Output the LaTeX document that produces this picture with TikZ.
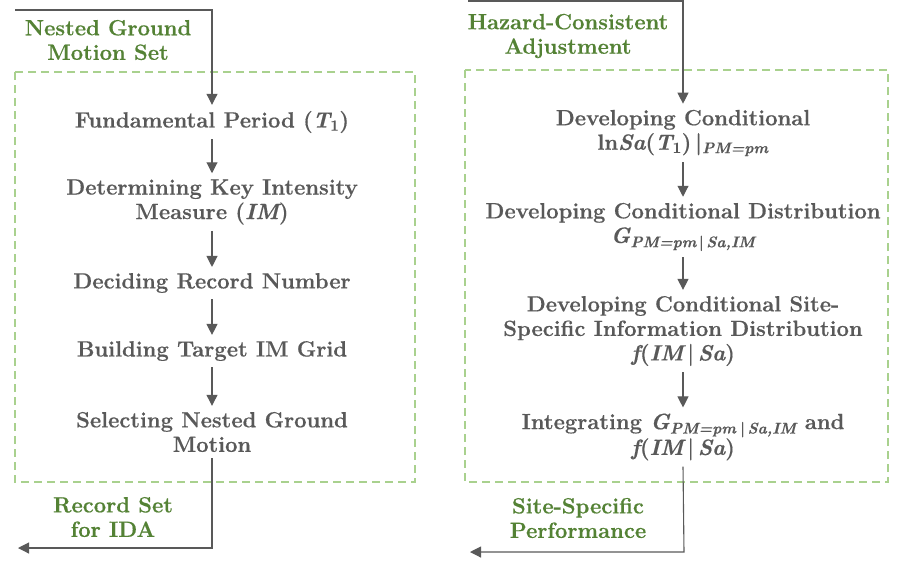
\documentclass[tikz,border=0pt]{standalone}
\usepackage{fontspec}
\setmainfont{Latin Modern Roman}[BoldFeatures={FakeBold=0.5},BoldItalicFeatures={FakeBold=0.5}]
\usetikzlibrary{arrows.meta}
\definecolor{txtgray}{HTML}{595959}
\definecolor{lblgreen}{HTML}{548235}
\definecolor{boxgreen}{HTML}{A9D18E}
\definecolor{arrgray}{HTML}{595959}
\newcommand{\vit}[1]{{\itshape #1}}
\newcommand{\vsub}[1]{\textsubscript{\itshape #1}}
\newcommand{\vbar}{{\upshape|}}
\begin{document}
\begin{tikzpicture}[x=1pt,y=-1pt,
  stepbox/.style={text=txtgray,font=\fontsize{22}{24.5}\selectfont\bfseries,align=center,inner sep=6pt},
  lbl/.style={text=lblgreen,font=\fontsize{22}{24.5}\selectfont\bfseries,align=center,inner sep=0pt},
  frame/.style={draw=boxgreen,line width=1.6pt,dash pattern=on 8pt off 5pt},
  conn/.style={draw=arrgray,line width=1.1pt,-{Triangle[width=11pt,length=11pt]}}]
\useasboundingbox (0,0) rectangle (904,566);
% frames
\draw[frame] (15,72) rectangle (415,482);
\draw[frame] (465,70) rectangle (888,482);
% left column
\coordinate (ls) at (15,10);
\coordinate (lc) at (212,10);
\node[stepbox] (l1) at (212,122) {Fundamental Period (\vit{T}\textsubscript{1})};
\node[stepbox] (l2) at (212,202) {Determining Key Intensity\\Measure (\vit{IM})};
\node[stepbox] (l3) at (212,283) {Deciding Record Number};
\node[stepbox] (l4) at (212,351) {Building Target IM Grid};
\node[stepbox] (l5) at (212,432) {Selecting Nested Ground\\Motion};
\coordinate (lb) at (212,548);
\coordinate (le) at (18,548);
\node[lbl] (ln1) at (108,40) {Nested Ground\\Motion Set};
\node[lbl] (ln2) at (113,517) {Record Set\\for IDA};
\draw[conn] (ls) -- (lc) -- (l1.north);
\draw[conn] (l1) -- (l2);
\draw[conn] (l2) -- (l3);
\draw[conn] (l3) -- (l4);
\draw[conn] (l4) -- (l5);
\draw[conn] (l5.south) -- (lb) -- (le);
% right column
\coordinate (rs) at (468,1);
\coordinate (rc) at (683,1);
\node[stepbox] (r1) at (683,133) {Developing Conditional\\ln\vit{Sa}(\vit{T}\textsubscript{1})\,\vbar\vsub{PM=pm}};
\node[stepbox] (r2) at (683,227) {Developing Conditional Distribution\\\vit{G}\vsub{PM=pm\,\vbar\,Sa,IM}};
\node[stepbox] (r3) at (683,331) {Developing Conditional Site-\\Specific Information Distribution\\\vit{f}(\vit{IM}\,\vbar\,\vit{Sa})};
\node[stepbox] (r4) at (683,437) {Integrating \vit{G}\vsub{PM=pm\;\vbar\,Sa,IM} and\\\vit{f}(\vit{IM}\,\vbar\,\vit{Sa})};
\coordinate (rb) at (684,552);
\coordinate (re) at (470,552);
\node[lbl] (rn1) at (568,36) {Hazard-Consistent\\Adjustment};
\node[lbl] (rn2) at (578,518) {Site-Specific\\Performance};
\draw[conn] (rs) -- (rc) -- (r1.north);
\draw[conn] (r1) -- (r2);
\draw[conn] (r2) -- (r3);
\draw[conn] (r3) -- (r4);
\draw[conn] (r4.south) -- (rb) -- (re);
\end{tikzpicture}
\end{document}
